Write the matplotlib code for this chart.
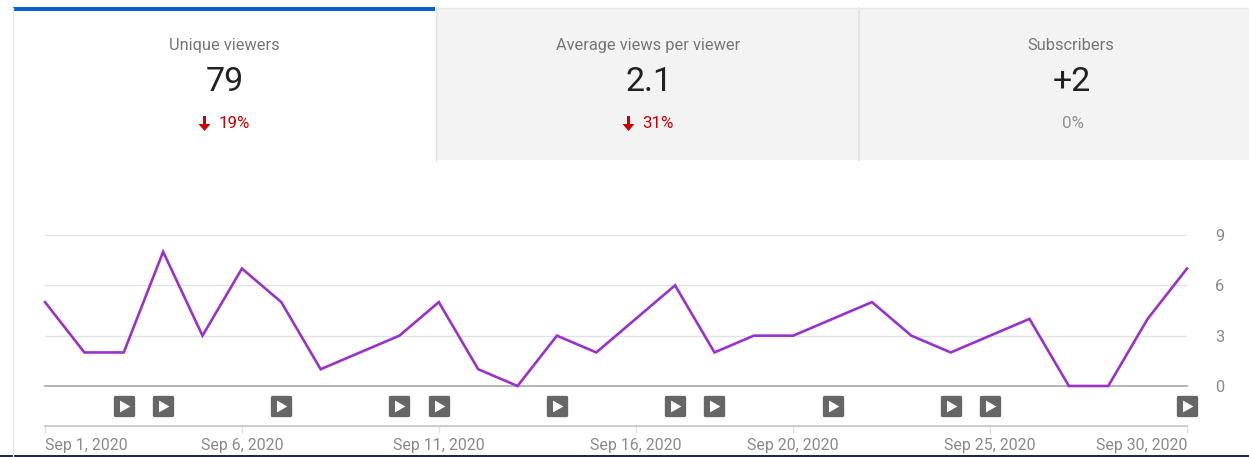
import numpy as np
import matplotlib
matplotlib.use("Agg")
import matplotlib.pyplot as plt
from matplotlib.markers import MarkerStyle
from matplotlib.patches import Rectangle, Polygon

plt.rcParams['font.family'] = ['Roboto', 'DejaVu Sans']

# data
days = list(range(1, 31))
viewers = [5, 2, 2, 8, 3, 7, 5, 1, 2, 3, 5, 1, 0, 3, 2, 4, 6, 2, 3, 3, 4, 5, 3, 2, 3, 4, 0, 0, 4, 7]
video_days = [3, 4, 7, 10, 11, 14, 17, 18, 21, 24, 25, 30]
y_ticks = [0, 3, 6, 9]
x_ticks = [1, 6, 11, 16, 20, 25, 30]
x_labels = ["Sep 1, 2020", "Sep 6, 2020", "Sep 11, 2020", "Sep 16, 2020",
            "Sep 20, 2020", "Sep 25, 2020", "Sep 30, 2020"]

card_titles = ["Unique viewers", "Average views per viewer", "Subscribers"]
card_values = ["79", "2.1", "+2"]
card_deltas = ["19%", "31%", "0%"]

W, H = 1249, 457
GREY_TXT = "#757575"
RED = "#cc0000"

fig = plt.figure(figsize=(W / 100, H / 100), dpi=100, facecolor="white")


def px_axes(x0, y0, x1, y1):
    # axes from pixel box, y measured from the top
    return fig.add_axes([x0 / W, 1 - y1 / H, (x1 - x0) / W, (y1 - y0) / H])


# overlay for the cards
bg = px_axes(0, 0, W, H)
bg.set_xlim(0, W)
bg.set_ylim(H, 0)
bg.axis("off")

bg.add_patch(Rectangle((436, 8), W - 436, 152, fc="#f3f3f3", ec="none"))
bg.plot([13, 13], [8, H], color="#e6e6e6", lw=1)
bg.plot([436, 436], [8, 160], color="#e0e0e0", lw=1)
bg.plot([859.5, 859.5], [8, 160], color="#e0e0e0", lw=1.2)
bg.plot([436, W], [7.5, 7.5], color="#e8e8e8", lw=1)
bg.add_patch(Rectangle((13, 7), 422, 4, fc="#065fd4", ec="none"))
bg.add_patch(Rectangle((0, 455), W, 2, fc="#1f2a44", ec="none"))

centers = [224, 648, 1071]
for cx, title, val, delta in zip(centers, card_titles, card_values, card_deltas):
    bg.text(cx, 50, title, ha="center", va="baseline", fontsize=11.8, color=GREY_TXT)
    bg.text(cx + 1, 91, val, ha="center", va="baseline", fontsize=24.5, color="#212121")
    if delta == "0%":
        bg.text(cx + 2, 128.5, delta, ha="center", va="baseline", fontsize=12.2, color="#909090")
    else:
        tx = cx + 10
        bg.text(tx, 128.5, delta, ha="center", va="baseline", fontsize=12.2, color=RED)
        ax_ = tx - 29.5
        bg.add_patch(Rectangle((ax_ - 1.5, 116), 3, 9, fc=RED, ec="none"))
        bg.add_patch(Polygon([(ax_ - 6, 124), (ax_ + 6, 124), (ax_, 131)], fc=RED, ec="none"))

# main line chart
ax = px_axes(45, 235, 1187, 386)
ax.patch.set_alpha(0)
ax.plot(days, viewers, color="#9932cc", lw=1.9, clip_on=False, zorder=3, solid_joinstyle="miter")
ax.set_xlim(1, 30)
ax.set_ylim(0, 9)
ax.set_xticks([])
ax.set_yticks(y_ticks)
ax.yaxis.tick_right()
ax.tick_params(axis="y", length=0, pad=20, labelsize=11.8, labelcolor="#8a8a8a")
ax.grid(axis="y", color="#e2e2e2", lw=1)
ax.set_axisbelow(True)
for s in ["top", "left", "right"]:
    ax.spines[s].set_visible(False)
ax.spines["bottom"].set_color("#a0a0a0")
ax.spines["bottom"].set_linewidth(1.1)

# video strip with date axis
strip = px_axes(45, 387, 1187, 425.5)
strip.patch.set_alpha(0)
strip.set_xlim(1, 30)
strip.set_ylim(0, 1)
marker_y = [0.515] * len(video_days)
strip.plot(video_days, marker_y, ls="", marker=MarkerStyle("s", joinstyle="round"), ms=13,
           mfc="#666666", mec="#666666", mew=2.4, clip_on=False)
play = [(-0.38, -0.5), (0.5, 0), (-0.38, 0.5), (-0.38, -0.5)]
strip.plot(video_days, marker_y, ls="", marker=play, ms=8.5, mfc="white", mec="none", clip_on=False, zorder=4)
for s in ["top", "left", "right"]:
    strip.spines[s].set_visible(False)
strip.spines["bottom"].set_color("#c4c4c4")
strip.spines["bottom"].set_linewidth(1.2)
strip.set_yticks([])
strip.set_xticks(x_ticks)
strip.set_xticklabels(x_labels)
strip.tick_params(axis="x", length=5, width=1, color="#e0e0e0", pad=4, labelsize=11.4, labelcolor="#8a8a8a")
tick_text = strip.get_xticklabels()
tick_text[0].set_ha("left")
tick_text[-1].set_ha("right")

fig.savefig("out.png", dpi=100)
